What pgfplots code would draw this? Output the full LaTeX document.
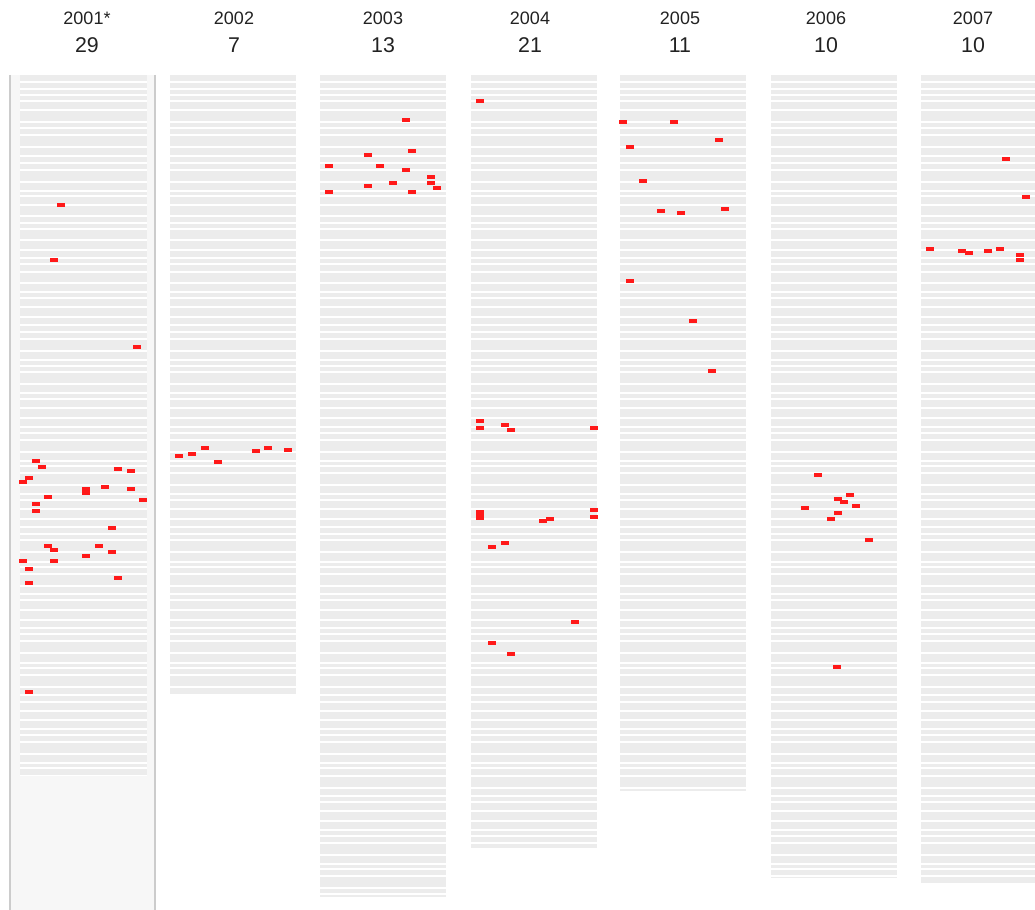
\documentclass[border=0pt]{standalone}
\usepackage{fontspec}
\setmainfont{Liberation Sans}
\usepackage{pgfplots}
\pgfplotsset{compat=1.18}

\definecolor{rowgray}{HTML}{ECECEC}
\definecolor{panel}{HTML}{F7F7F7}
\definecolor{panelline}{HTML}{CCCCCC}
\definecolor{hit}{RGB}{255,25,25}
\definecolor{hdr}{HTML}{222222}

\newcommand{\yr}[1]{{\fontsize{13.5}{15}\selectfont #1}}
\newcommand{\cnt}[1]{{\fontsize{16}{18}\selectfont #1}}

\begin{document}
\begin{tikzpicture}
% 1px = 0.75pt
\begin{axis}[
    at={(0,0)}, anchor=south west,
    scale only axis,
    width=776.25pt, height=682.5pt,
    xmin=0, xmax=1035, ymin=0, ymax=910,
    y dir=reverse,
    enlargelimits=false,
    set layers,
    axis line style={draw=none},
    major tick length=0pt,
    xtick=\empty,
    yticklabels={},
    ytick={82,89,95,101,110,122,128,135,147,156,163,170,182,191,196,205,
           216,223,229,240,250,258,264,272,283,292,298,307,317,325,332,339,
           351,360,366,372,384,393,399,408,418,427,433,440,452,461,466,473,
           485,494,500,509,519,527,534,540,552,562,567,574,586,594,600,610,
           620,628,634,641,653,663,668,675,687,695,702,711,720,729,735,742,
           754,763,768,776,788,796,802,811,821,830,836,843,855,864,869,876,888,894},
    ymajorgrids,
    grid style={white, line width=0.8pt},
]

% 2001 panel
\addplot[on layer=axis background, fill=panel, draw=none, mark=none]
    coordinates {(10,75) (155,75) (155,910) (10,910)};

% gray row columns
\addplot[on layer=axis background, fill=rowgray, draw=none, mark=none]
    coordinates {(20,75) (147,75) (147,776) (20,776)};
\addplot[on layer=axis background, fill=rowgray, draw=none, mark=none]
    coordinates {(170,75) (296,75) (296,694) (170,694)};
\addplot[on layer=axis background, fill=rowgray, draw=none, mark=none]
    coordinates {(320,75) (446,75) (446,897) (320,897)};
\addplot[on layer=axis background, fill=rowgray, draw=none, mark=none]
    coordinates {(471,75) (597,75) (597,848) (471,848)};
\addplot[on layer=axis background, fill=rowgray, draw=none, mark=none]
    coordinates {(620,75) (746,75) (746,791) (620,791)};
\addplot[on layer=axis background, fill=rowgray, draw=none, mark=none]
    coordinates {(771,75) (897,75) (897,878) (771,878)};
\addplot[on layer=axis background, fill=rowgray, draw=none, mark=none]
    coordinates {(921,75) (1035,75) (1035,883) (921,883)};

% cover grid lines on the panel outside the gray rows
\addplot[on layer=pre main, fill=panel, draw=none, mark=none]
    coordinates {(11,75) (20,75) (20,910) (11,910)};
\addplot[on layer=pre main, fill=panel, draw=none, mark=none]
    coordinates {(147,75) (154,75) (154,910) (147,910)};
\addplot[on layer=pre main, fill=panel, draw=none, mark=none]
    coordinates {(11,776) (154,776) (154,910) (11,910)};
\addplot[on layer=pre main, draw=panelline, line width=1.5pt, mark=none]
    coordinates {(10,75) (10,910)};
\addplot[on layer=pre main, draw=panelline, line width=1.5pt, mark=none]
    coordinates {(155,75) (155,910)};

\pgfplotsset{hits/.style={only marks, mark=-, color=hit, mark size=2.8pt,
    mark options={line width=2.4pt}}}

% 2001*
\addplot[hits] coordinates {
    (61,205) (54,260) (137,347) (36,461) (42,467) (118,469) (131,471)
    (29,478) (23,482) (86,489) (86,493) (105,487) (131,489) (48,497)
    (143,500) (36,504) (36,511) (112,528) (48,546) (54,550) (99,546)
    (112,552) (86,556) (23,561) (54,561) (29,569) (118,578) (29,583) (29,692)};
% 2002
\addplot[hits] coordinates {
    (179,456) (192,454) (205,448) (218,462) (256,451) (268,448) (288,450)};
% 2003
\addplot[hits] coordinates {
    (406,120) (412,151) (368,155) (329,166) (380,166) (406,170) (431,177)
    (393,183) (368,186) (431,183) (437,188) (329,192) (412,192)};
% 2004
\addplot[hits] coordinates {
    (480,101) (480,421) (480,428) (505,425) (511,430) (594,428)
    (480,512) (480,514) (480,515) (480,516) (480,518)
    (594,510) (594,517) (543,521) (550,519) (492,547) (505,543)
    (575,622) (492,643) (511,654) (480,515)};
% 2005
\addplot[hits] coordinates {
    (623,122) (674,122) (719,140) (630,147) (643,181) (661,211) (681,213)
    (725,209) (630,281) (693,321) (712,371)};
% 2006
\addplot[hits] coordinates {
    (818,475) (850,495) (838,499) (844,502) (805,508) (856,506) (838,513)
    (831,519) (869,540) (837,667)};
% 2007
\addplot[hits] coordinates {
    (1006,159) (1026,197) (930,249) (962,251) (969,253) (988,251) (1000,249)
    (1020,255) (1020,260) (1020,255)};

% headers
\node[text=hdr] at (axis cs:87,18) {\yr{2001*}};
\node[text=hdr] at (axis cs:87,45) {\cnt{29}};
\node[text=hdr] at (axis cs:234,18) {\yr{2002}};
\node[text=hdr] at (axis cs:234,45) {\cnt{7}};
\node[text=hdr] at (axis cs:383,18) {\yr{2003}};
\node[text=hdr] at (axis cs:383,45) {\cnt{13}};
\node[text=hdr] at (axis cs:530,18) {\yr{2004}};
\node[text=hdr] at (axis cs:530,45) {\cnt{21}};
\node[text=hdr] at (axis cs:680,18) {\yr{2005}};
\node[text=hdr] at (axis cs:680,45) {\cnt{11}};
\node[text=hdr] at (axis cs:826,18) {\yr{2006}};
\node[text=hdr] at (axis cs:826,45) {\cnt{10}};
\node[text=hdr] at (axis cs:973,18) {\yr{2007}};
\node[text=hdr] at (axis cs:973,45) {\cnt{10}};

\end{axis}
\pgfresetboundingbox
\useasboundingbox (0,0) rectangle (776.25pt,682.5pt);
\end{tikzpicture}
\end{document}
